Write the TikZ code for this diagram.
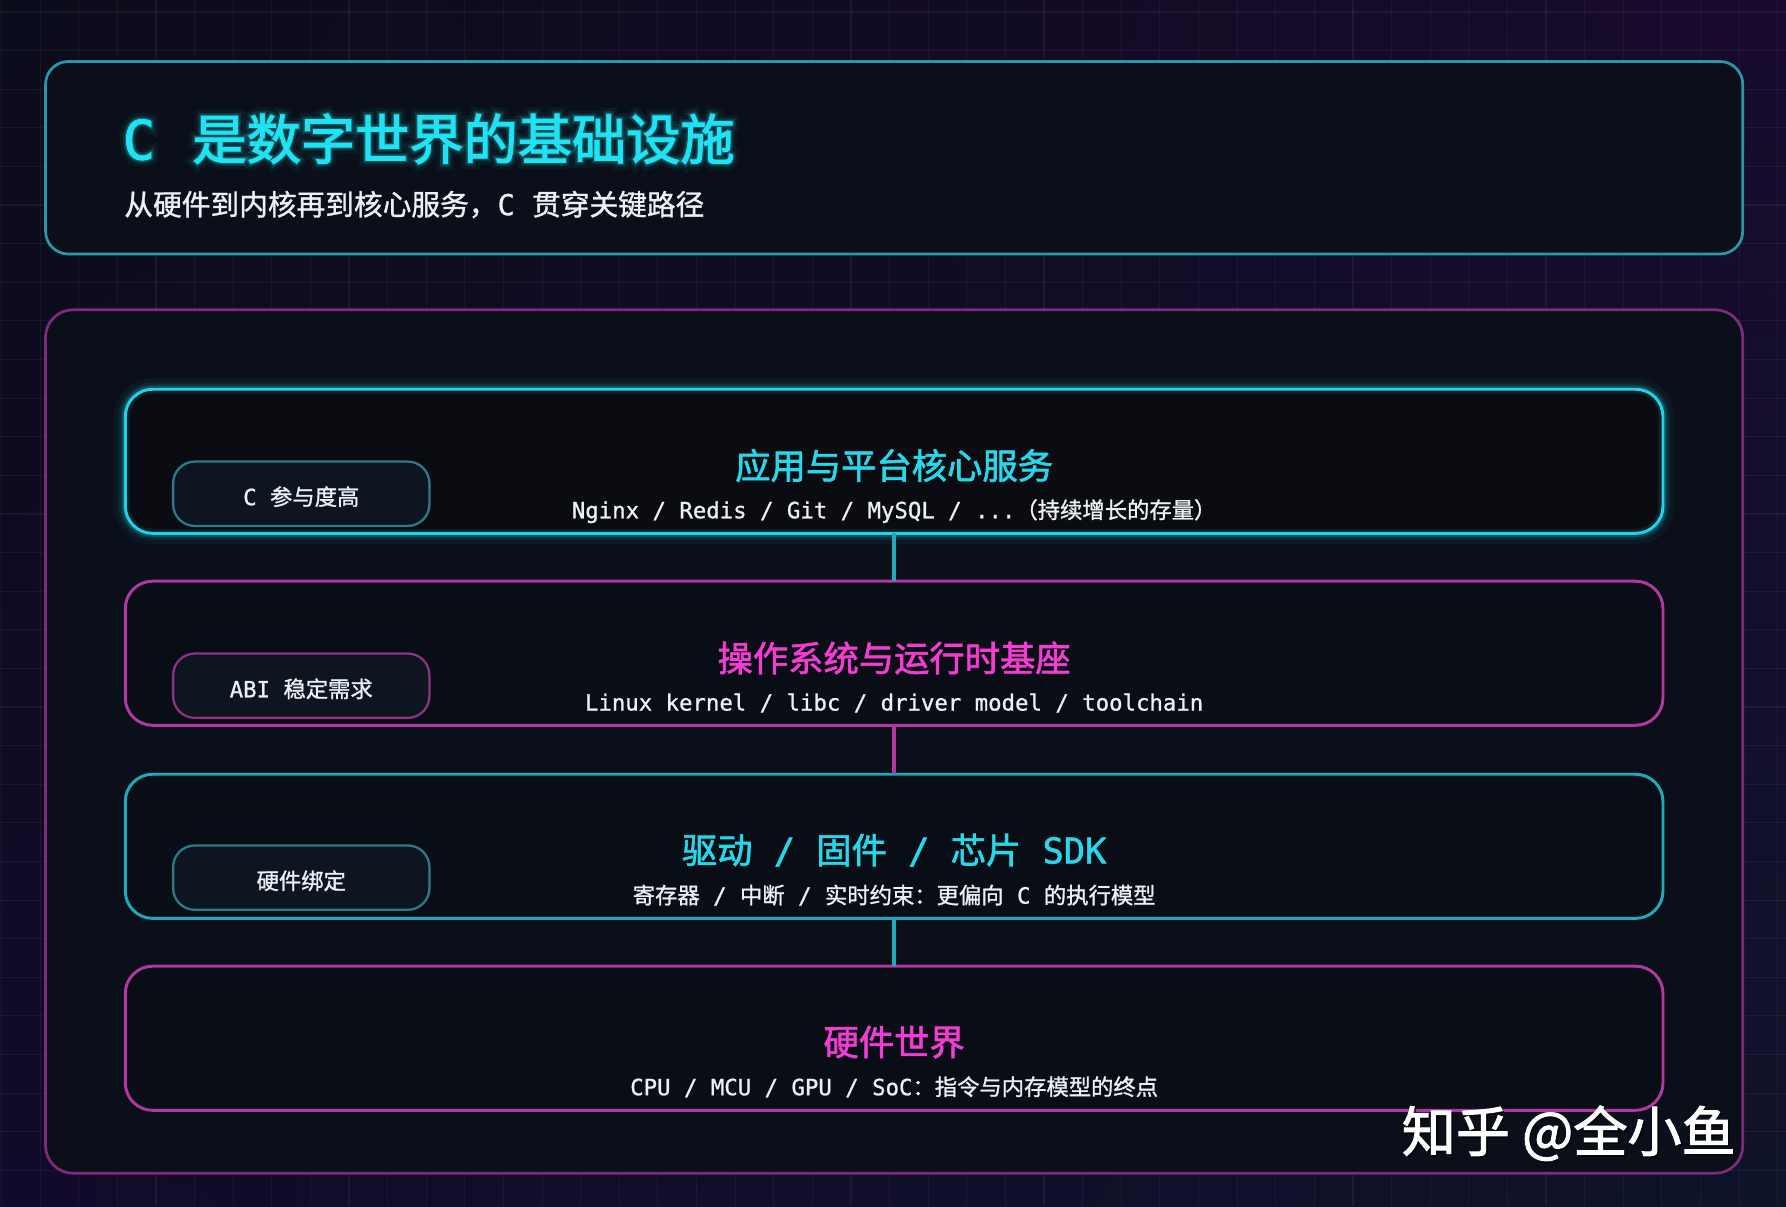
\documentclass[tikz,border=0pt]{standalone}
\usepackage{fontspec}
\usetikzlibrary{shadings}
\setmainfont{DejaVu Sans Mono}
\newfontfamily\cjk{Noto Sans CJK SC}[FakeBold=1.2]
\newfontfamily\cjkt{Noto Sans CJK SC}[FakeBold=1.8]
\newfontfamily\cjkglowA{Noto Sans CJK SC}[FakeBold=24]
\newfontfamily\cjkglowB{Noto Sans CJK SC}[FakeBold=12]
\newfontfamily\cjkglowC{Noto Sans CJK SC}[FakeBold=6]
\newfontfamily\mono{DejaVu Sans Mono}[FakeBold=1]
\newfontfamily\monot{DejaVu Sans Mono}[FakeBold=1.5]
\newfontfamily\monoglowA{DejaVu Sans Mono}[FakeBold=24]
\newfontfamily\monoglowB{DejaVu Sans Mono}[FakeBold=12]
\newfontfamily\monoglowC{DejaVu Sans Mono}[FakeBold=6]
\let\cjkcur\cjk
\let\monocur\mono
\newcommand\cj[1]{{\cjkcur #1}}
\newcommand\mn[1]{{\monocur #1}}
\newcommand\titletext{\mn{C }\kern4pt\cj{是数字世界的基础设施}}

\definecolor{bgTL}{HTML}{0B0C1B}
\definecolor{bgTR}{HTML}{180A2D}
\definecolor{bgBL}{HTML}{120A2A}
\definecolor{bgBR}{HTML}{0E1329}
\definecolor{panelfill}{HTML}{0A0F19}
\definecolor{layerfill}{HTML}{090D16}
\definecolor{layerfillA}{HTML}{0B0C12}
\definecolor{badgefill}{HTML}{0C1520}
\definecolor{cyanA}{HTML}{22D3E6}
\definecolor{cyanB}{HTML}{1FA9B9}
\definecolor{cyanHead}{HTML}{2A97A8}
\definecolor{cyanBadge}{HTML}{2B7C88}
\definecolor{magA}{HTML}{B0389F}
\definecolor{magOuter}{HTML}{7E2B7C}
\definecolor{magBadge}{HTML}{8D3384}
\definecolor{titlecyan}{HTML}{1FE3F2}
\definecolor{laycyan}{HTML}{25D8EA}
\definecolor{laymag}{HTML}{F23CD2}
\definecolor{softwhite}{HTML}{ECEFF4}

\tikzset{
  gridline/.style={draw=white, draw opacity=0.05, line width=1pt},
  panel/.style={rectangle, rounded corners=#1, fill=panelfill, line width=2.4pt, inner sep=0, outer sep=0},
  layerbox/.style={rectangle, rounded corners=24pt, fill=layerfill, line width=2.6pt, inner sep=0, outer sep=0,
     minimum width=1350pt, minimum height=126.5pt},
  badgebox/.style={rectangle, rounded corners=19pt, fill=badgefill, line width=2pt, inner sep=0, outer sep=0,
     minimum width=225pt, minimum height=56.5pt},
  badgetext/.style={anchor=base, inner sep=0, text=softwhite, font=\fontsize{19.6}{22}\selectfont},
  conn/.style={line width=3pt},
  laytitle/.style={anchor=base, inner sep=0, font=\fontsize{31}{34}\selectfont\let\cjkcur\cjkt\let\monocur\monot},
  laysub/.style={anchor=base, inner sep=0, text=softwhite, font=\fontsize{19.6}{22}\selectfont},
  titlefont/.style={anchor=base west, inner sep=0, text=titlecyan, font=\fontsize{47.6}{50}\selectfont#1},
}

\begin{document}
\begin{tikzpicture}[x=1pt, y=-1pt]
\useasboundingbox (0,0) rectangle (1568,1059);
% background
\shade[upper left=bgTL, upper right=bgTR, lower left=bgBL, lower right=bgBR] (0,0) rectangle (1568,1059);
\foreach \i in {0,...,46} \draw[gridline] ({1.3+33.9*\i},0) -- ({1.3+33.9*\i},1059);
\foreach \j in {0,...,31} \draw[gridline] (0,{10.5+33.9*\j}) -- (1568,{10.5+33.9*\j});

% header panel
\node[panel=20pt, draw=cyanHead, minimum width=1490pt, minimum height=169pt] (header) at (785,138.5) {};
\node[titlefont={\let\cjkcur\cjkglowA\let\monocur\monoglowA}, text opacity=0.06] (titleglowA) at (107.5,140) {\titletext};
\node[titlefont={\let\cjkcur\cjkglowB\let\monocur\monoglowB}, text opacity=0.12] (titleglowB) at (107.5,140) {\titletext};
\node[titlefont={\let\cjkcur\cjkglowC\let\monocur\monoglowC}, text opacity=0.22] (titleglowC) at (107.5,140) {\titletext};
\node[titlefont={\let\cjkcur\cjkt\let\monocur\monot}] (title) at (107.5,140) {\titletext};
\node[anchor=base west, inner sep=0, text=softwhite, font=\fontsize{25.2}{28}\selectfont] (subtitle) at (109,188.9)
  {\cj{从硬件到内核再到核心服务，}\mn{C }\cj{贯穿关键路径}};

% outer panel
\node[panel=24pt, draw=magOuter, minimum width=1490pt, minimum height=758pt] (outer) at (785,651) {};

% layers
\node[layerbox, draw=cyanA, fill=layerfillA,
  preaction={draw=cyanA, draw opacity=0.05, line width=20pt},
  preaction={draw=cyanA, draw opacity=0.08, line width=12pt},
  preaction={draw=cyanA, draw opacity=0.16, line width=6pt},
  postaction={draw=cyanA, draw opacity=0.10, line width=8pt}] (L1) at (785,405) {};
\node[layerbox, draw=magA] (L2) at (785,573.5) {};
\node[layerbox, draw=cyanB] (L3) at (785,743) {};
\node[layerbox, draw=magA] (L4) at (785,911.5) {};

% connectors
\draw[conn, draw=cyanB] (L1.south) -- (L2.north);
\draw[conn, draw=magA] (L2.south) -- (L3.north);
\draw[conn, draw=cyanB] (L3.south) -- (L4.north);

% badges
\node[badgebox, draw=cyanBadge] (B1) at (264.5,433.5) {};
\node[badgebox, draw=magBadge] (B2) at (264.5,602) {};
\node[badgebox, draw=cyanBadge] (B3) at (264.5,770.5) {};
\node[badgetext] (B1t) at (264.5,443.5) {\mn{C }\cj{参与度高}};
\node[badgetext] (B2t) at (264.5,612.2) {\mn{ABI }\cj{稳定需求}};
\node[badgetext] (B3t) at (264.5,780.7) {\cj{硬件绑定}};

% layer texts
\node[laytitle, text=laycyan] (T1) at (785,420.5) {\cj{应用与平台核心服务}};
\node[laysub] (S1) at (785,455) {\mn{Nginx / Redis / Git / MySQL / ...}\cj{（持续增长的存量）}};
\node[laytitle, text=laymag] (T2) at (785,589.5) {\cj{操作系统与运行时基座}};
\node[laysub] (S2) at (785,623.8) {\mn{Linux kernel / libc / driver model / toolchain}};
\node[laytitle, text=laycyan] (T3) at (785,758) {\cj{驱动}\mn{ / }\cj{固件}\mn{ / }\cj{芯片}\mn{ SDK}};
\node[laysub] (S3) at (785,793.3) {\cj{寄存器}\mn{ / }\cj{中断}\mn{ / }\cj{实时约束：更偏向}\mn{ C }\cj{的执行模型}};
\node[laytitle, text=laymag] (T4) at (785,926.5) {\cj{硬件世界}};
\node[laysub] (S4) at (785,961.5) {\mn{CPU / MCU / GPU / SoC}\cj{：指令与内存模型的终点}};

% watermark
\node[anchor=base east, inner sep=0, text=black, text opacity=0.5, font=\fontsize{47.5}{50}\selectfont\let\cjkcur\cjkt] (wmshadow) at (1525.5,1012.5) {\cj{知乎 @全小鱼}};
\node[anchor=base east, inner sep=0, text=white, font=\fontsize{47.5}{50}\selectfont\let\cjkcur\cjkt] (wm) at (1524,1011) {\cj{知乎 @全小鱼}};
\end{tikzpicture}
\end{document}
